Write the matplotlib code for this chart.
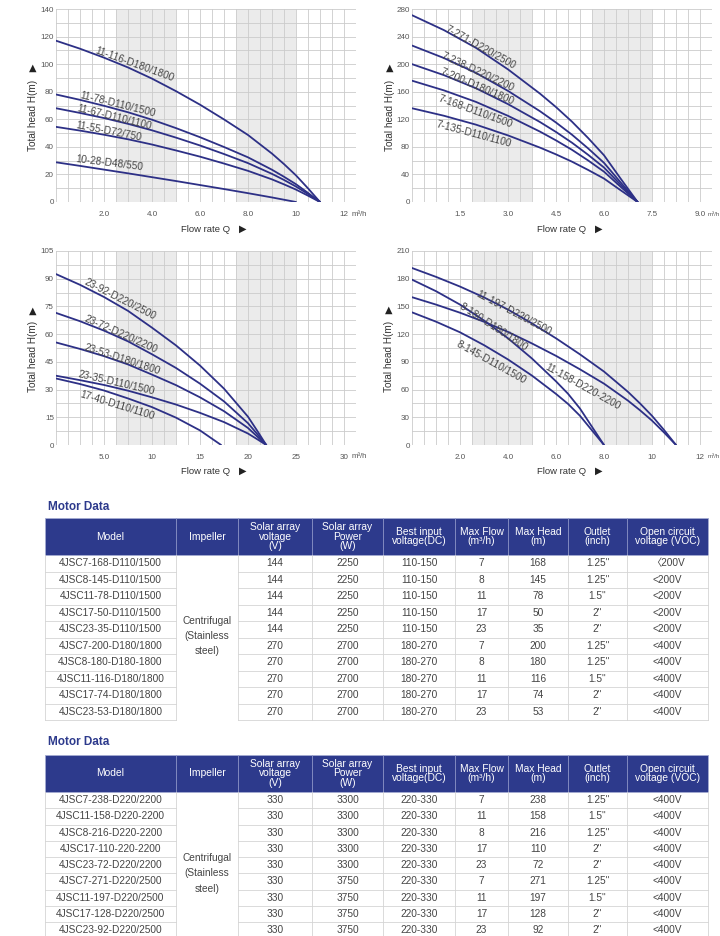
import matplotlib
matplotlib.use("Agg")
import matplotlib.pyplot as plt
from matplotlib.patches import Rectangle

plt.rcParams['font.family'] = ['Liberation Sans', 'DejaVu Sans', 'Noto Sans CJK SC']

# ---------------- curve data ----------------
# chart 1 : Q (m3/h) / H (m)
q1 = [0, 1, 2, 3, 4, 5, 6, 7, 8, 9, 9.5, 10, 10.5, 11]
h1_116 = [117, 111.2, 104.7, 97.6, 89.5, 80.4, 70.6, 59.9, 48.6, 35.1, 27.5, 19.3, 9.9, 0]
h1_78 = [78, 74.1, 69.8, 65.1, 59.7, 53.6, 47.0, 39.9, 32.4, 23.4, 18.3, 12.9, 6.6, 0]
h1_67 = [68, 64.6, 60.9, 56.7, 52.0, 46.7, 41.0, 34.8, 28.2, 20.4, 16.0, 11.2, 5.8, 0]
h1_55 = [54.5, 51.8, 48.8, 45.5, 41.7, 37.4, 32.9, 27.9, 22.6, 16.4, 12.8, 9.0, 4.6, 0]
q1_28 = [0, 1, 2, 3, 4, 5, 6, 7, 8, 9, 10]
h1_28 = [28.8, 26.2, 23.5, 20.8, 18.0, 15.2, 12.3, 9.4, 6.4, 3.3, 0]

# chart 2
q2 = [0, 1, 2, 3, 4, 4.5, 5, 5.5, 6, 6.5, 7.05]
h2_271 = [271, 249.3, 223.6, 192.4, 157.2, 137.7, 116.5, 93.0, 67.8, 35.2, 0]
h2_238 = [227, 208.8, 187.3, 161.2, 131.7, 115.3, 97.6, 77.9, 56.8, 29.5, 0]
h2_200 = [200, 184, 165, 142, 116, 101.6, 86, 68.6, 50, 26, 0]
h2_168 = [176, 161.9, 145.2, 125, 102.1, 89.4, 75.7, 60.4, 44, 22.9, 0]
h2_135 = [136, 125.1, 112.2, 96.6, 78.9, 69.1, 58.5, 46.6, 34, 17.7, 0]

# chart 3
q3 = [0, 2.5, 5, 7.5, 10, 12.5, 15, 17.5, 20, 21, 21.9]
h3_92 = [92.5, 86.7, 80.1, 72.6, 63.5, 53.9, 43.0, 30.5, 15.3, 7.4, 0]
h3_72 = [71.5, 67.0, 61.9, 56.1, 49.1, 41.7, 33.2, 23.6, 11.8, 5.7, 0]
h3_53 = [55.5, 52.0, 48.1, 43.6, 38.1, 32.4, 25.8, 18.3, 9.2, 4.4, 0]
h3_35 = [37.5, 35.1, 32.5, 29.4, 25.8, 21.9, 17.4, 12.4, 6.2, 3.0, 0]
q3_40 = [0, 2.5, 5, 7.5, 10, 12.5, 15, 17.2]
h3_40 = [36, 33, 29.5, 25.2, 20.5, 14.8, 7.9, 0]

# chart 4
q4_11 = [0, 1, 2, 3, 4, 5, 6, 7, 8, 9, 9.5, 10, 10.5, 11]
h4_197 = [191.6, 182, 171.5, 159.8, 146.6, 131.6, 115.5, 98.1, 79.5, 57.5, 45, 31.6, 16.3, 0]
h4_158 = [160, 152, 143.2, 133.4, 122.4, 109.9, 96.5, 81.9, 66.4, 48, 37.6, 26.4, 13.6, 0]
q4_8 = [0, 1, 2, 3, 4, 5, 6, 6.5, 7, 7.5, 8]
h4_180 = [179, 166.5, 152, 134.8, 115.5, 93.6, 68.9, 55.5, 39.4, 19.7, 0]
h4_145 = [143.6, 133.5, 122, 108.1, 92.6, 75.1, 55.3, 44.5, 31.6, 15.8, 0]

# axis ticks
xticks1 = [2, 4, 6, 8, 10, 12]
xlabels1 = ["2.0", "4.0", "6.0", "8.0", "10", "12"]
yticks1 = [0, 20, 40, 60, 80, 100, 120, 140]
xticks2 = [1.5, 3.0, 4.5, 6.0, 7.5, 9.0]
xlabels2 = ["1.5", "3.0", "4.5", "6.0", "7.5", "9.0"]
yticks2 = [0, 40, 80, 120, 160, 200, 240, 280]
xticks3 = [5, 10, 15, 20, 25, 30]
xlabels3 = ["5.0", "10", "15", "20", "25", "30"]
yticks3 = [0, 15, 30, 45, 60, 75, 90, 105]
xticks4 = [2, 4, 6, 8, 10, 12]
xlabels4 = ["2.0", "4.0", "6.0", "8.0", "10", "12"]
yticks4 = [0, 30, 60, 90, 120, 150, 180, 210]

# ---------------- table data ----------------
header = ["Model", "Impeller", "Solar array\nvoltage\n(V)", "Solar array\nPower\n(W)",
          "Best input\nvoltage(DC)", "Max Flow\n(m³/h)", "Max Head\n(m)", "Outlet\n(inch)",
          "Open circuit\nvoltage (VOC)"]
impeller = "Centrifugal\n(Stainless\nsteel)"

models1 = ["4JSC7-168-D110/1500", "4JSC8-145-D110/1500", "4JSC11-78-D110/1500",
           "4JSC17-50-D110/1500", "4JSC23-35-D110/1500", "4JSC7-200-D180/1800",
           "4JSC8-180-D180-1800", "4JSC11-116-D180/1800", "4JSC17-74-D180/1800",
           "4JSC23-53-D180/1800"]
volt1 = ["144", "144", "144", "144", "144", "270", "270", "270", "270", "270"]
power1 = ["2250", "2250", "2250", "2250", "2250", "2700", "2700", "2700", "2700", "2700"]
best1 = ["110-150", "110-150", "110-150", "110-150", "110-150",
         "180-270", "180-270", "180-270", "180-270", "180-270"]
flow1 = ["7", "8", "11", "17", "23", "7", "8", "11", "17", "23"]
head1 = ["168", "145", "78", "50", "35", "200", "180", "116", "74", "53"]
outlet1 = ['1.25"', '1.25"', '1.5"', '2"', '2"', '1.25"', '1.25"', '1.5"', '2"', '2"']
voc1 = ["〈200V", "<200V", "<200V", "<200V", "<200V", "<400V", "<400V", "<400V", "<400V", "<400V"]

models2 = ["4JSC7-238-D220/2200", "4JSC11-158-D220-2200", "4JSC8-216-D220-2200",
           "4JSC17-110-220-2200", "4JSC23-72-D220/2200", "4JSC7-271-D220/2500",
           "4JSC11-197-D220/2500", "4JSC17-128-D220/2500", "4JSC23-92-D220/2500"]
volt2 = ["330", "330", "330", "330", "330", "330", "330", "330", "330"]
power2 = ["3300", "3300", "3300", "3300", "3300", "3750", "3750", "3750", "3750"]
best2 = ["220-330"] * 9
flow2 = ["7", "11", "8", "17", "23", "7", "11", "17", "23"]
head2 = ["238", "158", "216", "110", "72", "271", "197", "128", "92"]
outlet2 = ['1.25"', '1.5"', '1.25"', '2"', '2"', '1.25"', '1.5"', '2"', '2"']
voc2 = ["<400V"] * 9

# ---------------- style ----------------
W, H = 720, 936
LINE = "#2d3086"
GRID = "#cbcbcb"
SHADE = "#ebebeb"
NAVY = "#2d3a8c"
TXT = "#444444"


def box(l, t, r, b):
    return [l / W, 1 - b / H, (r - l) / W, (b - t) / H]


def draw_chart(ax, xmax, ymax, xticks, xlabels, yticks, curves, labels):
    xs = xmax / 25
    ys = ymax / 14
    ax.set_xlim(0, xmax)
    ax.set_ylim(0, ymax)
    ax.set_facecolor("white")
    ax.axvspan(5 * xs, 10 * xs, color=SHADE, lw=0, zorder=0)
    ax.axvspan(15 * xs, 20 * xs, color=SHADE, lw=0, zorder=0)
    for i in range(26):
        ax.axvline(i * xs, color=GRID, lw=0.6, zorder=1)
    for j in range(15):
        ax.axhline(j * ys, color=GRID, lw=0.6, zorder=1)
    for s in ax.spines.values():
        s.set_visible(False)
    ax.set_xticks(xticks, xlabels)
    ax.set_yticks(yticks, [str(v) for v in yticks])
    ax.tick_params(axis='x', length=0, labelsize=5.8, labelcolor="#555555", pad=6.5)
    ax.tick_params(axis='y', length=0, labelsize=5.8, labelcolor="#555555", pad=1.5)
    for q, h in curves:
        ax.plot(q, h, color=LINE, lw=1.3, zorder=3, solid_capstyle='round',
                solid_joinstyle='round')
    for txt, x, y, rot in labels:
        ax.text(x, y, txt, rotation=rot, rotation_mode='anchor', ha='center', va='center',
                fontsize=7.3, color="#454545", zorder=4)


fig = plt.figure(figsize=(7.2, 9.36), dpi=100)

ax1 = fig.add_axes(box(56, 9, 356, 202))
draw_chart(ax1, 12.5, 140, xticks1, xlabels1, yticks1,
           [(q1, h1_116), (q1, h1_78), (q1, h1_67), (q1, h1_55), (q1_28, h1_28)],
           [("11-116-D180/1800", 3.25, 100, -20),
            ("11-78-D110/1500", 2.57, 71, -14),
            ("11-67-D110/1100", 2.44, 61.2, -14),
            ("11-55-D72/750", 2.21, 51, -11),
            ("10-28-D48/550", 2.21, 28.3, -7)])

ax2 = fig.add_axes(box(412, 9, 712, 202))
draw_chart(ax2, 9.375, 280, xticks2, xlabels2, yticks2,
           [(q2, h2_271), (q2, h2_238), (q2, h2_200), (q2, h2_168), (q2, h2_135)],
           [("7-271-D220/2500", 2.125, 224, -29),
            ("7-238-D220/2200", 2.04, 189, -25),
            ("7-200-D180/1800", 2.05, 166.7, -23),
            ("7-168-D110/1500", 1.97, 131.6, -20),
            ("7-135-D110/1100", 1.92, 98, -15)])

ax3 = fig.add_axes(box(56, 251, 356, 445))
draw_chart(ax3, 31.25, 105, xticks3, xlabels3, yticks3,
           [(q3, h3_92), (q3, h3_72), (q3, h3_53), (q3, h3_35), (q3_40, h3_40)],
           [("23-92-D220/2500", 6.67, 78.7, -27),
            ("23-72-D220/2200", 6.77, 59.7, -24),
            ("23-53-D180/1800", 6.84, 46.4, -18),
            ("23-35-D110/1500", 6.28, 33.7, -13),
            ("17-40-D110/1100", 6.35, 21.5, -17)])

ax4 = fig.add_axes(box(412, 251, 712, 445))
draw_chart(ax4, 12.5, 210, xticks4, xlabels4, yticks4,
           [(q4_11, h4_197), (q4_11, h4_158), (q4_8, h4_180), (q4_8, h4_145)],
           [("11-197-D220/2500", 4.22, 142.9, -28),
            ("8-180-D180/1800", 3.39, 128, -33),
            ("11-158-D220-2200", 7.12, 62.8, -29),
            ("8-145-D110/1500", 3.28, 89, -29)])

# overlay in pixel coordinates for axis titles and tables
axt = fig.add_axes([0, 0, 1, 1])
axt.set_xlim(0, W)
axt.set_ylim(H, 0)
axt.axis('off')

for x, ylab, ytri in [(33, 115, 68), (390, 115, 68), (33, 356, 311), (389, 356, 310)]:
    axt.text(x, ylab, "Total head H(m)", rotation=90, ha='center', va='center',
             fontsize=7.2, color="#333333")
    axt.text(x, ytri, "▲", ha='center', va='center', fontsize=7,
             color="#222222", family='DejaVu Sans')
for x, y, xu, fs in [(206, 229, 352, 5.6), (562, 229, 707.5, 4.4),
                     (206, 471, 352, 5.6), (562, 471, 707.5, 4.4)]:
    axt.text(x, y, "Flow rate Q", ha='center', va='center', fontsize=6.8, color="#333333")
    axt.text(x + 37, y, "▶", ha='center', va='center', fontsize=7,
             color="#222222", family='DejaVu Sans')
    axt.text(xu, y - 15, "m³/h", ha='left', va='center', fontsize=fs, color="#555555")

cols = [45, 176, 238, 312, 383, 455, 508, 568, 627, 708]


def draw_table(title_y, head_top, head_bot, row_h, columns, imp_y):
    axt.text(48, title_y, "Motor Data", ha='left', va='center', fontsize=8.5,
             fontweight='bold', color=NAVY)
    axt.add_patch(Rectangle((cols[0], head_top), cols[-1] - cols[0], head_bot - head_top,
                            fc=NAVY, ec="#a4abd2", lw=0.6))
    for x in cols[1:-1]:
        axt.plot([x, x], [head_top, head_bot], color="#8f97c8", lw=0.6)
    for k, txt in enumerate(header):
        axt.text((cols[k] + cols[k + 1]) / 2, (head_top + head_bot) / 2, txt, ha='center',
                 va='center', fontsize=7.4, color="white", linespacing=0.95)
    n = len(columns[0])
    bottom = head_bot + n * row_h
    for x in cols:
        axt.plot([x, x], [head_bot, bottom], color="#d4d4d4", lw=0.6)
    for i in range(n):
        yb = head_bot + (i + 1) * row_h
        axt.plot([cols[0], cols[1]], [yb, yb], color="#d4d4d4", lw=0.6)
        axt.plot([cols[2], cols[-1]], [yb, yb], color="#d4d4d4", lw=0.6)
        yc = head_bot + (i + 0.5) * row_h
        for k, colvals in enumerate(columns):
            c = k if k == 0 else k + 1
            axt.text((cols[c] + cols[c + 1]) / 2, yc, colvals[i], ha='center', va='center',
                     fontsize=7.3, color=TXT)
    axt.text((cols[1] + cols[2]) / 2, imp_y, impeller, ha='center', va='center',
             fontsize=7.3, color=TXT, linespacing=1.65)


draw_table(507, 518, 555, 16.5,
           [models1, volt1, power1, best1, flow1, head1, outlet1, voc1], 636)
draw_table(742, 755, 792, 16.25,
           [models2, volt2, power2, best2, flow2, head2, outlet2, voc2], 873.5)

fig.savefig("out.png", dpi=100)
